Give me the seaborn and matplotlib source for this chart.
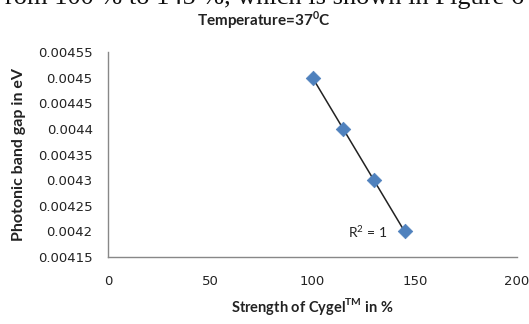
import matplotlib
matplotlib.use("Agg")
import matplotlib.pyplot as plt
import seaborn as sns
import pandas as pd

strength = [100, 115, 130, 145]
band_gap = [0.0045, 0.0044, 0.0043, 0.0042]
x_ticks = [0, 50, 100, 150, 200]
y_ticks = [0.00415, 0.0042, 0.00425, 0.0043, 0.00435, 0.0044, 0.00445, 0.0045, 0.00455]
y_tick_labels = ["0.00415", "0.0042", "0.00425", "0.0043", "0.00435", "0.0044", "0.00445", "0.0045", "0.00455"]

df = pd.DataFrame({"strength": strength, "gap": band_gap})

sns.set_style("white")
plt.rcParams['font.family'] = ['DejaVu Sans']

fig = plt.figure(figsize=(5.29, 3.24), dpi=100)
ax = fig.add_axes([108/529, 1-257/324, (517-108)/529, (257-52)/324])

sns.regplot(data=df, x="strength", y="gap", ax=ax, scatter=False, ci=None,
            truncate=True, line_kws=dict(color="#222222", lw=1.1), label=None)
sns.scatterplot(data=df, x="strength", y="gap", ax=ax, marker="D", s=55,
                color="#4F81BD", edgecolor="#4F81BD", linewidth=0.5, zorder=3, legend=False)

ax.set_xlim(0, 200)
ax.set_ylim(0.00415, 0.00455)
ax.set_xticks(x_ticks)
ax.set_xticklabels([str(t) for t in x_ticks], fontsize=9.5, color="#222222")
ax.set_yticks(y_ticks)
ax.set_yticklabels(y_tick_labels, fontsize=9.5, color="#222222")
ax.tick_params(axis="x", length=0, pad=13)
ax.tick_params(axis="y", length=0, pad=11)
for s in ["top", "right"]:
    ax.spines[s].set_visible(False)
for s in ["left", "bottom"]:
    ax.spines[s].set_color("#888888")
    ax.spines[s].set_linewidth(1.0)

ax.set_xlabel("Strength of Cygel$^{\\mathregular{TM}}$ in %", family="Lato", fontweight="bold",
              fontsize=10.5, color="#222222", labelpad=6)
ax.set_ylabel("Photonic band gap in eV", family="Lato", fontweight="bold",
              fontsize=11.5, color="#222222", labelpad=9)

ax.text(145 - 8.6, 0.0042, "R$^{\\mathregular{2}}$ = 1", family="Lato", fontsize=10,
        ha="right", va="center", color="#222222")

fig.text(264/529, 1-20/324, "Temperature=37$^{\\mathregular{0}}$C", family="Lato", fontweight="bold",
         fontsize=11, ha="center", va="center", color="#222222")

fig.text(0.5, 1 - 4/324, "rom 100 % to 145 %, which is shown in Figure 6", family="Liberation Serif",
         fontsize=19, ha="center", va="baseline", color="#111111")

fig.savefig("out.png", dpi=100)
